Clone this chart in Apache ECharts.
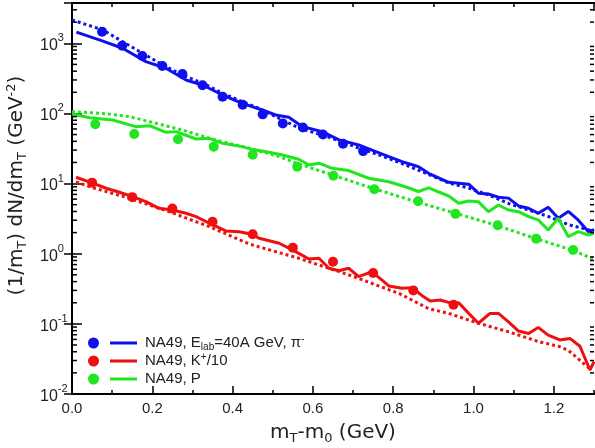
<!DOCTYPE html>
<html><head><meta charset="utf-8">
<script src="https://cdn.jsdelivr.net/npm/echarts@6/dist/echarts.min.js"></script>
<style>html,body{margin:0;padding:0;background:#fff}#c{width:595px;height:448px}</style>
</head><body><div id="c"></div>
<script>
const FONT = 'Liberation Sans';
const NAMEFONT = 'DejaVu Sans';
const TXT = '#222';
const BLUE = '#1010ee', RED = '#ee1010', GREEN = '#20e620';

// ---- data: NA49 measurements (dots) ----
const piDotX = [0.075,0.125,0.175,0.225,0.275,0.325,0.375,0.425,0.475,0.525,0.575,0.625,0.675,0.725];
const piDotY = [1460,925,660,475,365,252,173,133,97,72,63,50,37,29];
const kDotX  = [0.05,0.15,0.25,0.35,0.45,0.55,0.65,0.75,0.85,0.95];
const kDotY  = [10.3,6.4,4.4,2.86,1.89,1.22,0.77,0.53,0.30,0.187];
const pDotX  = [0.058,0.155,0.264,0.353,0.450,0.561,0.651,0.753,0.862,0.955,1.060,1.156,1.248];
const pDotY  = [70,51,42.8,33.6,25.8,17.4,12.9,8.3,5.6,3.7,2.55,1.64,1.13];

// ---- model curves: solid ----
const piSolidX = [0.011,0.077,0.126,0.184,0.234,0.284,0.325,0.375,0.424,0.474,0.507,0.540,0.573,0.623,0.665,0.714,0.747,0.789,0.822,0.863,0.888,0.938,0.988,1.012,1.037,1.062,1.087,1.112,1.137,1.161,1.186,1.211,1.236,1.261,1.286,1.300];
const piSolidY = [1440,1070,849,547,440,300,254,183,139,112,95,88,65,55,42,35.5,30,24.2,20.5,17.4,14.0,10.4,9.8,7.3,7.1,6.4,6.2,4.8,4.45,3.77,4.6,3.2,4.0,3.0,2.06,2.2];
const kSolidX = [0.010,0.048,0.085,0.118,0.151,0.184,0.217,0.250,0.284,0.309,0.342,0.383,0.416,0.445,0.466,0.516,0.557,0.590,0.615,0.640,0.665,0.689,0.714,0.747,0.789,0.822,0.847,0.872,0.892,0.917,0.946,0.963,0.988,1.012,1.041,1.062,1.087,1.112,1.137,1.161,1.186,1.215,1.240,1.265,1.290,1.300];
const kSolidY = [12.3,10.3,8.57,7.51,6.5,5.52,4.44,4.2,3.77,3.37,2.72,2.11,2.06,1.91,1.66,1.41,1.07,0.84,0.86,0.62,0.573,0.62,0.47,0.555,0.347,0.321,0.327,0.252,0.212,0.219,0.196,0.2,0.141,0.102,0.141,0.141,0.107,0.079,0.073,0.089,0.069,0.059,0.062,0.048,0.022,0.029];
const pSolidX = [0.000,0.044,0.101,0.159,0.193,0.234,0.259,0.309,0.342,0.375,0.424,0.450,0.491,0.524,0.565,0.590,0.615,0.648,0.689,0.739,0.789,0.830,0.863,0.888,0.938,0.963,0.988,1.012,1.037,1.062,1.087,1.112,1.137,1.161,1.186,1.211,1.236,1.261,1.286,1.300];
const pSolidY = [98,87,80.6,64.7,66.8,53.8,55,43.2,44.2,37.5,33.6,30.5,27.9,25.5,22.2,18.4,19.5,16.5,15.3,11.9,10.6,9.0,7.7,8.7,6.65,5.23,5.65,5.52,3.97,4.95,4.2,3.97,3.37,3.03,2.18,3.2,1.75,2.06,1.85,1.95];

// ---- model curves: dotted ----
const piDotLX = [0.0,0.077,0.126,0.176,0.226,0.275,0.326,0.375,0.424,0.466,0.516,0.565,0.623,0.670,0.714,0.770,0.830,0.888,0.938,0.988,1.037,1.087,1.137,1.186,1.236,1.286,1.300];
const piDotLY = [2150,1549,1054,720,491,353,269,194,147,118,85,62,49,40,32,25,18.5,13.5,10.2,8.6,6.9,5.2,4.2,3.4,2.6,2.2,2.1];
const kDotLX = [0.010,0.043,0.143,0.242,0.342,0.441,0.466,0.565,0.689,0.814,0.888,0.938,1.012,1.087,1.161,1.211,1.236,1.293];
const kDotLY = [10.6,9.03,6.17,3.97,2.43,1.38,1.25,0.86,0.50,0.272,0.165,0.141,0.102,0.077,0.056,0.048,0.042,0.022];
const pDotLX = [0.0,0.077,0.143,0.209,0.275,0.342,0.391,0.450,0.516,0.565,0.648,0.749,0.856,0.913,0.955,1.054,1.153,1.245,1.300];
const pDotLY = [106,100,90,72.3,58,44.2,37.5,31,24.2,19.0,13.3,8.57,5.52,4.44,3.77,2.57,1.66,1.13,0.83];

// ---- axes ----
const xMin = 0, xMax = 1.3, xMajor = 0.2, xMinor = 0.1;
const yMin = 0.01, yMax = 3750;
const yMinorTicks = [];
for (let d = -2; d <= 3; d++) for (let k = 2; k <= 9; k++) { const v = k * Math.pow(10, d); if (v < yMax) yMinorTicks.push(v); }

const legendNames = ['NA49, Elab=40A GeV, π-', 'NA49, K+/10', 'NA49, P'];
const legendRich = {
  'NA49, Elab=40A GeV, π-': 'NA49, E{sub|lab}=40A GeV, π{sup|-}',
  'NA49, K+/10': 'NA49, K{sup|+}/10',
  'NA49, P': 'NA49, P'
};

const zip = (xs, ys) => xs.map((x, i) => [x, ys[i]]);

const supRich = {
  sup: {fontSize: 10, verticalAlign: 'top', lineHeight: 10, fontFamily: FONT, color: TXT},
  sub: {fontSize: 10, verticalAlign: 'bottom', lineHeight: 10, fontFamily: FONT, color: TXT}
};

function xAx(pos, interval, len, labels) {
  return {
    type: 'value', position: pos, min: xMin, max: xMax, interval: interval,
    axisLine: {show: true, lineStyle: {color: '#000', width: 2}},
    axisTick: {show: true, inside: true, length: len, lineStyle: {color: '#000', width: 1.5}},
    axisLabel: labels ? {show: true, margin: 7, fontFamily: FONT, fontSize: 15, color: TXT,
      showMaxLabel: false, formatter: v => v.toFixed(1)} : {show: false},
    splitLine: {show: false}
  };
}

const option = {
  animation: false,
  backgroundColor: '#fff',
  grid: {left: 72, right: 1, top: 3, bottom: 54, outerBoundsMode: 'none'},
  xAxis: [
    Object.assign(xAx('bottom', xMajor, 8, true), {
      name: 'm{sub|T}-m{sub|0} (GeV)', nameLocation: 'middle', nameGap: 26,
      nameTextStyle: {fontFamily: NAMEFONT, fontSize: 20, color: TXT, lineHeight: 24,
        rich: {sub: {fontSize: 13, verticalAlign: 'bottom', lineHeight: 20, fontFamily: NAMEFONT, color: TXT}}}
    }),
    xAx('bottom', xMinor, 4, false),
    xAx('top', xMajor, 8, false),
    xAx('top', xMinor, 4, false)
  ],
  yAxis: [
    {
      type: 'log', logBase: 10, min: yMin, max: yMax, position: 'left',
      axisLine: {show: true, lineStyle: {color: '#000', width: 2}},
      axisTick: {show: true, inside: true, length: 10, lineStyle: {color: '#000', width: 1.5}},
      axisLabel: {show: true, margin: 32, align: 'left', showMaxLabel: false,
        formatter: v => '{b|10}{s|' + Math.round(Math.log10(v)) + '}',
        rich: {
          b: {fontFamily: FONT, fontSize: 16, color: TXT, lineHeight: 21, verticalAlign: 'bottom'},
          s: {fontFamily: FONT, fontSize: 11, color: TXT, lineHeight: 11, verticalAlign: 'top'}
        }},
      splitLine: {show: false},
      name: '(1/m{sub|T}) dN/dm{sub|T} (GeV{sup|-2})', nameLocation: 'middle', nameGap: 38,
      nameTextStyle: {fontFamily: NAMEFONT, fontSize: 20, color: TXT, lineHeight: 24, padding: [0, 0, 0, 26],
        rich: {
          sub: {fontSize: 13, verticalAlign: 'bottom', lineHeight: 20, fontFamily: NAMEFONT, color: TXT},
          sup: {fontSize: 13, verticalAlign: 'top', lineHeight: 20, fontFamily: NAMEFONT, color: TXT}
        }}
    },
    {
      type: 'log', logBase: 10, min: yMin, max: yMax, position: 'right',
      axisLine: {show: true, lineStyle: {color: '#000', width: 2}},
      axisTick: {show: true, inside: true, length: 8, lineStyle: {color: '#000', width: 1.5}},
      axisLabel: {show: false}, splitLine: {show: false}
    }
  ],
  legend: {
    orient: 'vertical', left: 88, top: 334, itemGap: 0, padding: 0,
    itemWidth: 49, itemHeight: 11, selectedMode: false,
    icon: 'path://M0,5.5 A5.5,5.5 0 1,1 11,5.5 A5.5,5.5 0 1,1 0,5.5 Z M22,4 L49,4 L49,7 L22,7 Z',
    data: legendNames,
    formatter: name => legendRich[name],
    textStyle: {fontFamily: FONT, fontSize: 15, color: TXT, lineHeight: 18, padding: [0, 0, 0, 3],
      rich: supRich}
  },
  series: [
    {name: 'pi solid', type: 'line', data: zip(piSolidX, piSolidY), showSymbol: false, symbol: 'none',
     lineStyle: {color: BLUE, width: 3}, z: 3},
    {name: 'pi dotted', type: 'line', data: zip(piDotLX, piDotLY), showSymbol: false, symbol: 'none',
     lineStyle: {color: BLUE, width: 3, type: [3, 3]}, z: 2},
    {name: 'k solid', type: 'line', data: zip(kSolidX, kSolidY), showSymbol: false, symbol: 'none',
     lineStyle: {color: RED, width: 3}, z: 3},
    {name: 'k dotted', type: 'line', data: zip(kDotLX, kDotLY), showSymbol: false, symbol: 'none',
     lineStyle: {color: RED, width: 3, type: [3, 3]}, z: 2},
    {name: 'p solid', type: 'line', data: zip(pSolidX, pSolidY), showSymbol: false, symbol: 'none',
     lineStyle: {color: GREEN, width: 3}, z: 3},
    {name: 'p dotted', type: 'line', data: zip(pDotLX, pDotLY), showSymbol: false, symbol: 'none',
     lineStyle: {color: GREEN, width: 3, type: [3, 3]}, z: 2},
    {name: legendNames[0], type: 'scatter', data: zip(piDotX, piDotY), symbolSize: 10, itemStyle: {color: BLUE, opacity: 1}, z: 4},
    {name: legendNames[1], type: 'scatter', data: zip(kDotX, kDotY), symbolSize: 10, itemStyle: {color: RED, opacity: 1}, z: 4},
    {name: legendNames[2], type: 'scatter', data: zip(pDotX, pDotY), symbolSize: 10, itemStyle: {color: GREEN, opacity: 1}, z: 4},
    {
      name: 'minor y ticks', type: 'custom', silent: true, clip: false, z: 5,
      data: yMinorTicks.map(v => [xMin, v]),
      renderItem: (params, api) => {
        const v = api.value(1);
        const a = api.coord([xMin, v]);
        const b = api.coord([xMax, v]);
        return {type: 'group', children: [
          {type: 'line', shape: {x1: a[0], y1: a[1], x2: a[0] + 5, y2: a[1]}, style: {stroke: '#000', lineWidth: 1.5}},
          {type: 'line', shape: {x1: b[0] - 4, y1: b[1], x2: b[0], y2: b[1]}, style: {stroke: '#000', lineWidth: 1.5}}
        ]};
      }
    }
  ]
};

const chart = echarts.init(document.getElementById('c'));
chart.setOption(option);
</script>
</body></html>
